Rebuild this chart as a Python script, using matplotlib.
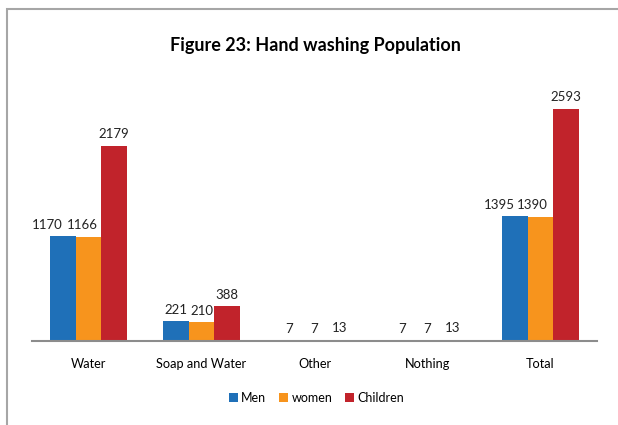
import matplotlib
matplotlib.use("Agg")
import matplotlib.pyplot as plt
from matplotlib.patches import Rectangle
import numpy as np

# data
categories = ["Water", "Soap and Water", "Other", "Nothing", "Total"]
men = [1170, 221, 7, 7, 1395]
women = [1166, 210, 7, 7, 1390]
children = [2179, 388, 13, 13, 2593]
series_names = ["Men", "women", "Children"]
colors = ["#1F70B8", "#F7941D", "#C1232B"]

plt.rcParams["font.family"] = ["Lato", "DejaVu Sans"]

fig = plt.figure(figsize=(6.18, 4.25), dpi=100)
ax = fig.add_axes([32 / 618, 1 - 341 / 425, 565 / 618, 268.4 / 425])

# chart border (runs off the right/bottom edge)
fig.patches.append(Rectangle((7 / 618, -0.1), 1.2, 1 - 9 / 425 + 0.1,
                             transform=fig.transFigure, fill=False,
                             edgecolor="#A6A6A6", linewidth=1.5))

# labels that would collide are nudged left, like Excel does (points)
nudge = {(0, 0): -11.5, (0, 1): -4.5, (4, 0): -11, (4, 1): -6}

x = np.arange(len(categories))
w = 0.226
for i, (vals, name, c) in enumerate(zip([men, women, children], series_names, colors)):
    bars = ax.bar(x + (i - 1) * w, vals, w, color=c, label=name)
    for j, (b, v) in enumerate(zip(bars, vals)):
        ax.annotate(str(v), (b.get_x() + b.get_width() / 2, v),
                    xytext=(nudge.get((j, i), 0), 4), textcoords="offset points",
                    ha="center", va="bottom", fontsize=9.5, color="#222222")

ax.set_xlim(-0.5, len(categories) - 0.5)
ax.set_ylim(0, 3000)
ax.set_yticks([])
ax.set_xticks(x)
ax.set_xticklabels(categories, fontsize=9.2)
ax.tick_params(axis="x", length=0, pad=12)
for s in ["top", "right", "left"]:
    ax.spines[s].set_visible(False)
ax.spines["bottom"].set_color("#8C8C8C")
ax.spines["bottom"].set_linewidth(1.5)

fig.text(0.51, 1 - 45 / 425, "Figure 23: Hand washing Population",
         ha="center", va="center", fontsize=13, fontweight="bold")

fig.legend(loc="center", bbox_to_anchor=(0.512, 1 - 398 / 425), ncol=3,
           frameon=False, fontsize=9, handlelength=0.75, handleheight=0.75,
           handletextpad=0.25, columnspacing=1.0)

fig.savefig("out.png", dpi=100)
